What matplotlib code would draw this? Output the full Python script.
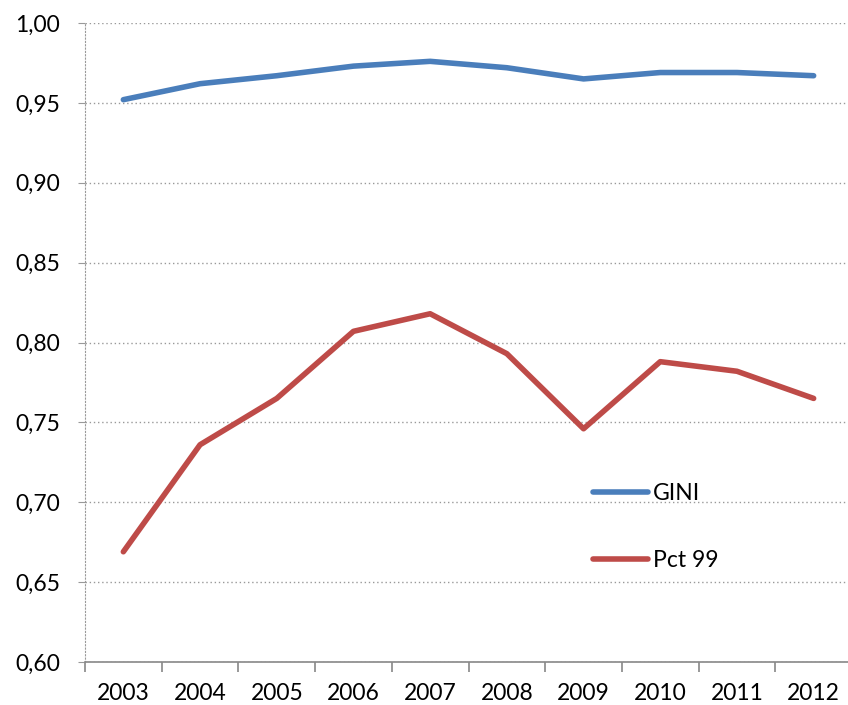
import numpy as np
import matplotlib.pyplot as plt
from matplotlib.ticker import FuncFormatter, FixedLocator

# GINI and Pct 99 by year
years = ['2003', '2004', '2005', '2006', '2007', '2008', '2009', '2010', '2011', '2012']
gini = [0.952, 0.962, 0.967, 0.973, 0.976, 0.972, 0.965, 0.969, 0.969, 0.967]
pct99 = [0.669, 0.736, 0.765, 0.807, 0.818, 0.793, 0.746, 0.788, 0.782, 0.765]

plt.rcParams['font.family'] = ['Lato', 'DejaVu Sans']

fig = plt.figure(figsize=(8.48, 7.05), dpi=100)
ax = fig.add_axes([85/848, 43/705, 767/848, 639/705])

x = np.arange(len(years))
ax.plot(x, gini, color='#4A7EBB', linewidth=4, label='GINI', solid_capstyle='round')
ax.plot(x, pct99, color='#BE4B48', linewidth=4, label='Pct 99', solid_capstyle='round')

ax.set_xlim(-0.5, len(years) - 0.5)
ax.set_ylim(0.60, 1.00)
ax.set_yticks(np.arange(0.60, 1.001, 0.05))
ax.yaxis.set_major_formatter(FuncFormatter(lambda v, p: f'{v:.2f}'.replace('.', ',')))
ax.grid(axis='y', color='#999999', linestyle=(0, (1, 2)), linewidth=1)

ax.set_xticks(x)
ax.set_xticklabels(years)
ax.tick_params(axis='x', length=0, labelsize=16.5, pad=15)
ax.xaxis.set_minor_locator(FixedLocator(np.arange(-0.5, len(years), 1)))
ax.tick_params(axis='x', which='minor', length=7, width=1.2, color='#888888')
ax.tick_params(axis='y', length=5, color='#999999', labelsize=16.5, pad=13)

for s in ['top', 'right']:
    ax.spines[s].set_visible(False)
ax.spines['left'].set_color('#999999')
ax.spines['left'].set_linestyle((0, (1, 2)))
ax.spines['bottom'].set_color('#888888')
ax.spines['bottom'].set_linewidth(1.2)

ax.legend(loc='upper left', bbox_to_anchor=(582/848, 1 - 472/705), bbox_transform=fig.transFigure,
          frameon=False, fontsize=16.5, handlelength=2.4, handletextpad=0.2, labelspacing=2.0,
          borderpad=0)

fig.savefig('out.png', dpi=100)
